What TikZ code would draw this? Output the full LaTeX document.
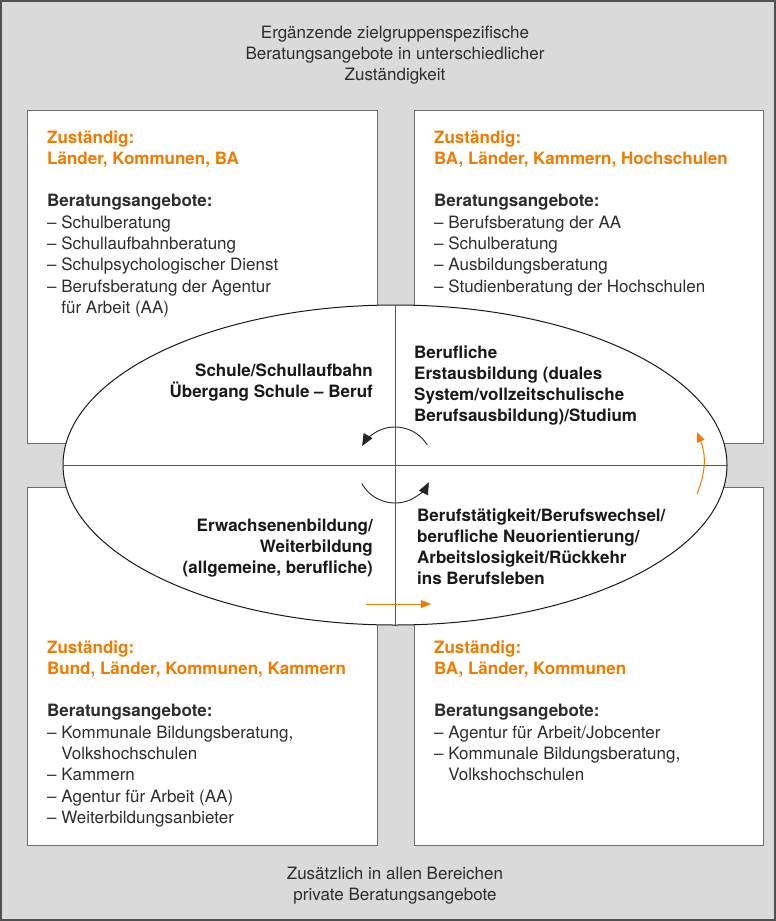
\documentclass[tikz,border=0pt]{standalone}
\usepackage{fontspec}
\setmainfont{TeX Gyre Heros}
\usetikzlibrary{arrows.meta,shapes.geometric}
\definecolor{bggray}{RGB}{218,218,218}
\definecolor{orng}{RGB}{239,124,0}
\definecolor{txt}{RGB}{45,45,45}
\definecolor{boxline}{RGB}{110,110,110}
\definecolor{outerline}{RGB}{80,80,80}
\begin{document}
\begin{tikzpicture}[x=1pt,y=1pt,
  panel/.style={draw=boxline, fill=white, line width=1.1pt, anchor=north west, inner sep=0pt},
  boxtext/.style={inner sep=0pt, text=txt, font=\fontsize{17}{21.3}\selectfont},
  elltext/.style={inner sep=0pt, text=black!90, font=\fontsize{17}{21.3}\selectfont\bfseries},
  crossline/.style={draw=black!65, line width=0.9pt},
  cyclearrow/.style={draw=black!85, line width=0.9pt, -{Triangle[length=12pt,width=10pt]}},
  orangearrow/.style={draw=orng, line width=1pt, -{Triangle[length=10pt,width=8pt]}}
]
\useasboundingbox (0,0) rectangle (776,-921);
\draw[fill=bggray, draw=outerline, line width=1.5pt] (1,-1) rectangle (775,-920);

% panels
\node[panel, minimum width=350, minimum height=333] (tl) at (27,-110) {};
\node[panel, minimum width=349, minimum height=333] (tr) at (414,-110) {};
\node[panel, minimum width=350, minimum height=358] (bl) at (27,-487) {};
\node[panel, minimum width=349, minimum height=358] (br) at (414,-487) {};

% ellipse
\node[ellipse, draw=black!90, fill=white, line width=1pt, minimum width=664, minimum height=320, inner sep=0pt] (ell) at (395,-465) {};
\draw[crossline] (ell.west) -- (ell.east);
\draw[crossline] (ell.north) -- (ell.south);

% circular arrows
\draw[cyclearrow] ([shift={(32:38)}]ell.center) arc[start angle=32, end angle=150, radius=38];
\draw[cyclearrow] ([shift={(209:38)}]ell.center) arc[start angle=209, end angle=333, radius=38];

% orange arrows
\coordinate (oas) at (366,-604);
\coordinate (oae) at (431,-604);
\draw[orangearrow] (oas) -- (oae);
\coordinate (obs) at (697,-494);
\coordinate (obe) at (697,-432);
\draw[orangearrow] (obs) to[bend right=22] (obe);

% top and bottom texts
\node[boxtext, anchor=base] (toptext) at (395,-38) {\parbox[t]{420pt}{\centering
Ergänzende zielgruppenspezifische\\Beratungsangebote in unterschiedlicher\\Zuständigkeit}};
\node[boxtext, anchor=base] (bottomtext) at (395,-879) {\parbox[t]{420pt}{\centering
Zusätzlich in allen Bereichen\\private Beratungsangebote}};

% panel texts
\node[boxtext, anchor=base west] (tltext) at (47,-143) {\parbox[t]{330pt}{\raggedright\leavevmode
{\color{orng}\bfseries Zuständig:\\Länder, Kommunen, BA}\\[21.3pt]
{\bfseries Beratungsangebote:}\\
– Schulberatung\\
– Schullaufbahnberatung\\
– Schulpsychologischer Dienst\\
– Berufsberatung der Agentur\\
\phantom{– }für Arbeit (AA)}};

\node[boxtext, anchor=base west] (trtext) at (434,-143) {\parbox[t]{330pt}{\raggedright\leavevmode
{\color{orng}\bfseries Zuständig:\\BA, Länder, Kammern, Hochschulen}\\[21.3pt]
{\bfseries Beratungsangebote:}\\
– Berufsberatung der AA\\
– Schulberatung\\
– Ausbildungsberatung\\
– Studienberatung der Hochschulen}};

\node[boxtext, anchor=base west] (bltext) at (47,-653) {\parbox[t]{330pt}{\raggedright\leavevmode
{\color{orng}\bfseries Zuständig:\\Bund, Länder, Kommunen, Kammern}\\[21.3pt]
{\bfseries Beratungsangebote:}\\
– Kommunale Bildungsberatung,\\
\phantom{– }Volkshochschulen\\
– Kammern\\
– Agentur für Arbeit (AA)\\
– Weiterbildungsanbieter}};

\node[boxtext, anchor=base west] (brtext) at (434,-653) {\parbox[t]{330pt}{\raggedright\leavevmode
{\color{orng}\bfseries Zuständig:\\BA, Länder, Kommunen}\\[21.3pt]
{\bfseries Beratungsangebote:}\\
– Agentur für Arbeit/Jobcenter\\
– Kommunale Bildungsberatung,\\
\phantom{– }Volkshochschulen}};

% ellipse texts
\node[elltext, anchor=base east] (q1) at (373,-376) {\parbox[t]{240pt}{\raggedleft
Schule/Schullaufbahn\\Übergang Schule – Beruf}};
\node[elltext, anchor=base west] (q2) at (414,-358) {\parbox[t]{280pt}{\raggedright
Berufliche\\Erstausbildung (duales\\System/vollzeitschulische\\Berufsausbildung)/Studium}};
\node[elltext, anchor=base east] (q3) at (373,-531) {\parbox[t]{240pt}{\raggedleft
Erwachsenenbildung/\\Weiterbildung\\(allgemeine, berufliche)}};
\node[elltext, anchor=base west] (q4) at (417,-521) {\parbox[t]{280pt}{\raggedright
Berufstätigkeit/Berufswechsel/\\berufliche Neuorientierung/\\Arbeitslosigkeit/Rückkehr\\ins Berufsleben}};
\end{tikzpicture}
\end{document}
